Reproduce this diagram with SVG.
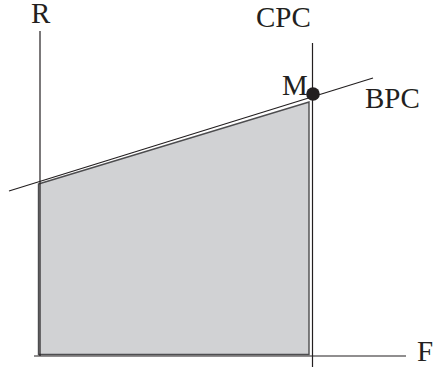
<svg xmlns="http://www.w3.org/2000/svg" width="433" height="372" viewBox="0 0 433 372">
<style>
.lbl{font-family:"Liberation Serif","Times New Roman",serif;font-size:29px;fill:#231f20}
.ax{stroke:#231f20;stroke-width:1.2;fill:none}
</style>
<g id="region"><polygon points="38.5,184 309,102 309,354.5 38.5,354.5" fill="#d1d2d4" stroke="#4d4d4f" stroke-width="1.4"/></g>
<g id="connectors">
<line class="ax" x1="40" y1="31" x2="40" y2="356"/>
<line class="ax" x1="34" y1="356" x2="406" y2="356"/>
<line class="ax" x1="312.5" y1="43" x2="312.5" y2="367"/>
<line class="ax" x1="9" y1="191" x2="373" y2="78"/>
</g>
<g id="M"><circle cx="313" cy="94" r="6.8" fill="#231f20"/><text class="lbl" x="282" y="95">M</text></g>
<g id="R"><text class="lbl" x="31" y="23">R</text></g>
<g id="CPC"><text class="lbl" x="256" y="27">CPC</text></g>
<g id="BPC"><text class="lbl" x="365" y="108">BPC</text></g>
<g id="F"><text class="lbl" x="417" y="361">F</text></g>
</svg>
